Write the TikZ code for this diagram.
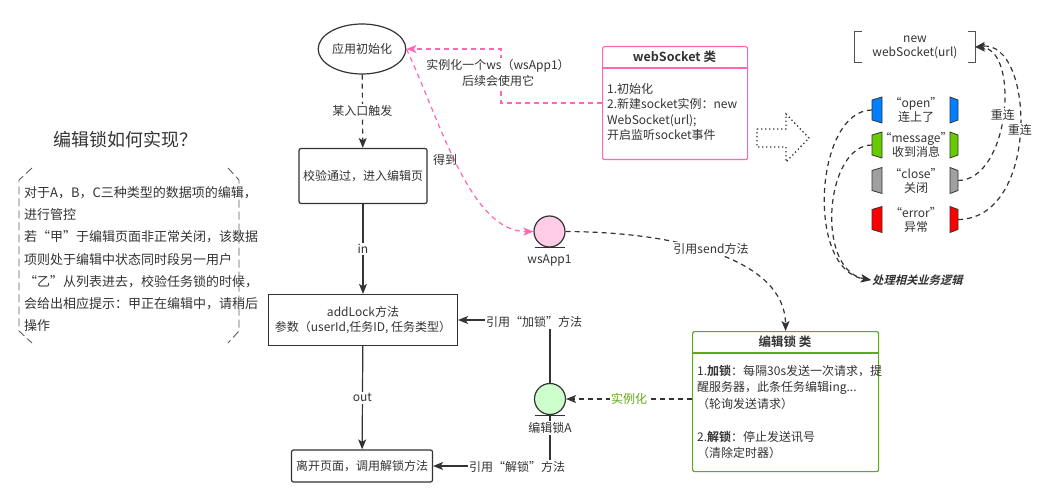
\documentclass[tikz,border=0pt]{standalone}
\usepackage{fontspec}
\setmainfont{Noto Sans CJK SC}[BoldFont={Noto Sans CJK SC Bold}]
\newfontfamily\slantbold{Noto Sans CJK SC Bold}[FakeSlant=0.25]
\usepackage{xcolor}
\usetikzlibrary{arrows.meta,shapes.geometric}

\definecolor{txt}{HTML}{333333}
\definecolor{wspink}{HTML}{FF66B3}
\definecolor{wsfill}{HTML}{FFCCE6}
\definecolor{lockgreen}{HTML}{60A917}
\definecolor{lockfill}{HTML}{CCFFCC}
\definecolor{evblue}{HTML}{007FFF}
\definecolor{evgreen}{HTML}{66CC00}
\definecolor{evgray}{HTML}{A0A0A0}
\definecolor{evred}{HTML}{FF0000}

\begin{document}
\begin{tikzpicture}[x=1pt, y=-1pt, font=\fontsize{12}{15.5}\selectfont, text=txt,
  every node/.style={inner sep=1pt},
  stepbox/.style={draw=txt, line width=1.2pt, rounded corners=2pt},
  arr/.style={draw=txt, line width=1.2pt, -{Stealth[length=10pt,width=8pt,inset=2.5pt]}},
  dsh/.style={dash pattern=on 5pt off 4pt},
  lbl/.style={fill=white, inner sep=1.5pt},
  head/.style={font=\fontsize{12.5}{15}\selectfont\bfseries},
  entity/.style={circle, draw=txt, line width=1.2pt, minimum size=31pt, inner sep=0pt}]
  \useasboundingbox (0,0) rectangle (1058,500);

  % left: question and description
  \node[font=\fontsize{18}{22}\selectfont] (title) at (125,140) {编辑锁如何实现？};
  \node[anchor=north west, align=left, font=\fontsize{13}{22.3}\selectfont] (desc) at (23,185)
    {对于A，B，C三种类型的数据项的编辑，\\进行管控\\若“甲”于编辑页面非正常关闭，该数据\\项则处于编辑中状态同时段另一用户\\“乙”从列表进去，校验任务锁的时候，\\会给出相应提示：甲正在编辑中，请稍后\\操作};
  \draw[txt!80, line width=0.9pt, dash pattern=on 8pt off 4pt] (32,168) -- (19,180) -- (19,331) -- (32,343);
  \draw[txt!80, line width=0.9pt, dash pattern=on 8pt off 4pt] (228,168) -- (239,180) -- (239,331) -- (228,343);

  % main flow
  \node[ellipse, draw=txt, line width=1.2pt, minimum width=74pt, minimum height=50pt] (init) at (362,49) {应用初始化};
  \node[stepbox, minimum width=128pt, minimum height=55pt] (check) at (363,176) {校验通过，进入编辑页};
  \node[draw=txt, line width=1.2pt, minimum width=189pt, minimum height=51pt, align=center] (addlock) at (363,320)
    {addLock方法\\参数（userId,任务ID, 任务类型）};
  \node[stepbox, minimum width=141pt, minimum height=32pt] (leave) at (362,466) {离开页面，调用解锁方法};

  \draw[arr, dsh] (init) -- node[lbl] {某入口触发} (check);
  \draw[arr] (check) -- node[lbl] {in} (addlock);
  \draw[arr] (addlock) -- node[lbl] {out} (leave);

  % webSocket class
  \node[draw=wspink, line width=1.2pt, rounded corners=2pt, minimum width=145pt, minimum height=113pt, anchor=north west] (wsclass) at (602,46) {};
  \draw[wspink, line width=1.2pt] (602,68) -- (747,68);
  \node[head] (wstitle) at (674.5,57) {webSocket 类};
  \node[anchor=north west, align=left] (wsbody) at (606,82) {1.初始化\\2.新建socket实例：new\\WebSocket(url);\\开启监听socket事件};

  % wsApp1 entity
  \node[entity, fill=wsfill] (wsapp) at (549.5,231.5) {};
  \draw[txt, line width=1.2pt] ([xshift=-15pt]wsapp.south) -- ([xshift=15pt]wsapp.south);
  \node (wsapplbl) at (549.5,260) {wsApp1};

  % pink connectors
  \coordinate (bend) at (501,49);
  \draw[arr, dsh, draw=wspink, -{Stealth[length=10pt,width=8pt,inset=2.5pt,fill=wspink]}] (wsclass.west) -| (bend) -- (init.east);
  \node[lbl, align=center] (newlbl) at (498,73) {实例化一个ws（wsApp1）\\后续会使用它};
  \draw[arr, dsh, draw=wspink] (init.east) .. controls (440,120) and (470,232) .. (wsapp.west);
  \node (getlbl) at (445,160) {得到};

  % lock class
  \node[draw=lockgreen, line width=1.2pt, rounded corners=2pt, minimum width=186pt, minimum height=140pt, anchor=north west] (lockclass) at (692,331) {};
  \draw[lockgreen, line width=1.2pt] (692,353) -- (878,353);
  \node[head] (locktitle) at (785,342) {编辑锁 类};
  \node[anchor=north west, align=left, font=\fontsize{12}{16.5}\selectfont] (lockbody) at (696,364)
    {1.\textbf{加锁}：每隔30s发送一次请求，提\\醒服务器，此条任务编辑ing...\\（轮询发送请求）\\[16.5pt]2.\textbf{解锁}：停止发送讯号\\（清除定时器）};

  \draw[arr, dsh] (wsapp.east) .. controls (680,232) and (785,260) .. (lockclass.north);
  \node[lbl] (sendlbl) at (711,249) {引用send方法};

  % lock A entity
  \node[entity, fill=lockfill] (locka) at (550,399) {};
  \draw[arr] (locka.north) |- (addlock.east);
  \node[lbl] (addlbl) at (534,322) {引用“加锁”方法};
  \draw[arr] (locka.south) |- (leave.east);
  \node[lbl] (unlbl) at (517,467) {引用“解锁”方法};
  \draw[txt, line width=1.2pt] ([xshift=-15pt]locka.south) -- ([xshift=15pt]locka.south);
  \node[lbl] (lockalbl) at (550,428) {编辑锁A};
  \draw[arr, dsh] (lockclass.west |- locka.east) -- node[lbl, text=lockgreen] {实例化} (locka.east);

  % dotted block arrow
  \draw[txt, line width=1.3pt, dash pattern=on 1.3pt off 2.7pt] (757,129) -- (786,129) -- (786,114) -- (809,138) -- (786,162) -- (786,147) -- (757,147) -- cycle;

  % right: websocket events
  \node[minimum width=120pt, minimum height=30pt, align=center, font=\fontsize{12}{14}\selectfont] (newws) at (915,47) {new\\webSocket(url)};
  \draw[txt!85, line width=1.2pt] ([xshift=7pt]newws.north west) -- (newws.north west) -- (newws.south west) -- ([xshift=7pt]newws.south west);
  \draw[txt!85, line width=1.2pt] ([xshift=-7pt]newws.north east) -- (newws.north east) -- (newws.south east) -- ([xshift=-7pt]newws.south east);

  \foreach \ev/\col/\yy/\evtxt in {open/evblue/110/{“open”\\连上了}, message/evgreen/145/{“message”\\收到消息},
                                   close/evgray/180.5/{“close”\\关闭}, error/evred/219.5/{“error”\\异常}}{
    \filldraw[fill=\col, draw=txt, line width=0.8pt] (872,\yy-10) -- (882,\yy-13) -- (882,\yy+13) -- (872,\yy+10) -- cycle;
    \filldraw[fill=\col, draw=txt, line width=0.8pt] (950,\yy-13) -- (958,\yy-10) -- (958,\yy+10) -- (950,\yy+13) -- cycle;
    \node[align=center, font=\fontsize{12}{14}\selectfont] (ev-\ev) at (916,\yy) {\evtxt};
    \coordinate (\ev-l) at (872,\yy);
    \coordinate (\ev-r) at (958,\yy);
  }

  \node[anchor=west, font=\slantbold\fontsize{11.3}{13}\selectfont] (biz) at (871,280) {处理相关业务逻辑};
  \draw[arr, dsh] (open-l) .. controls (815,110) and (805,270) .. (biz.west);
  \draw[arr, dsh] (message-l) .. controls (825,145) and (815,270) .. (biz.west);

  \draw[arr, dsh] (close-r) .. controls (1010,180) and (1020,50) .. node[lbl] {重连} (newws.east);
  \draw[arr, dsh] (error-r) .. controls (1040,219) and (1035,40) .. node[lbl] {重连} (newws.east);
\end{tikzpicture}
\end{document}
